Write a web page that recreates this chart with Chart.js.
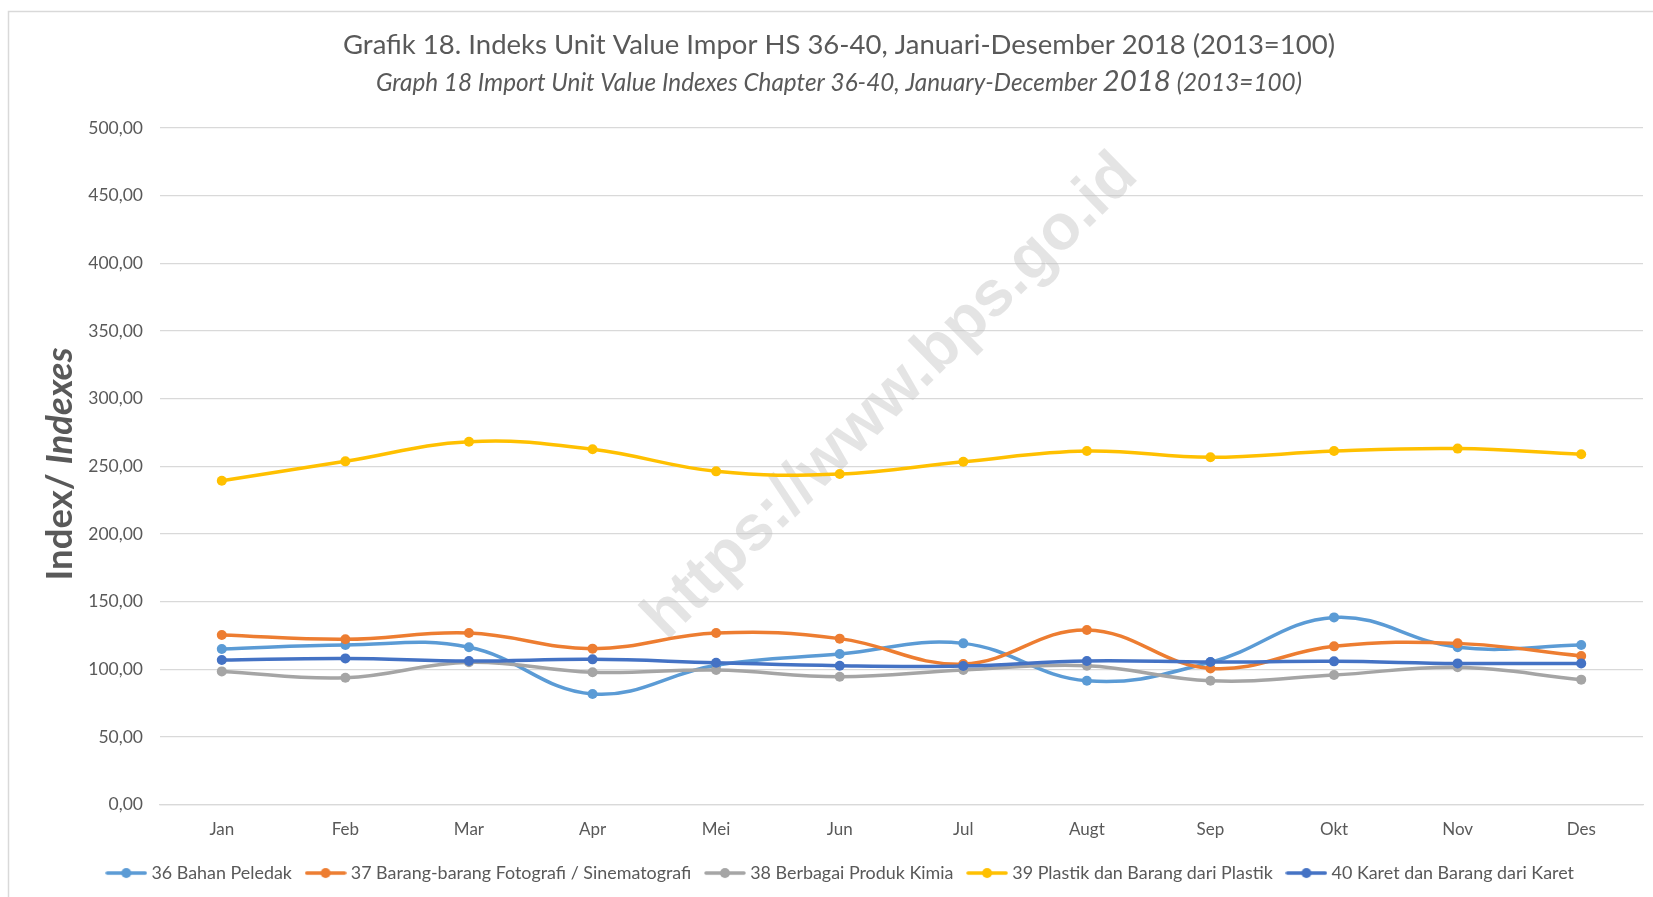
<!DOCTYPE html>
<html>
<head>
<meta charset="utf-8">
<title>Grafik 18 - Indeks Unit Value Impor HS 36-40</title>
<script src="https://cdn.jsdelivr.net/npm/chart.js@4/dist/chart.umd.min.js"></script>
<style>
  html, body { margin: 0; padding: 0; background: #fff; overflow: hidden; }
  #wrap { position: absolute; left: 0; top: 0; width: 1678px; height: 897px; }
</style>
</head>
<body>
<div id="wrap"><canvas id="uvChart"></canvas></div>
<script>
// Data
const months = ['Jan', 'Feb', 'Mar', 'Apr', 'Mei', 'Jun', 'Jul', 'Augt', 'Sep', 'Okt', 'Nov', 'Des'];
const hs36 = [115.0, 118.0, 116.3, 81.8, 103.0, 111.3, 119.2, 91.6, 105.2, 138.4, 116.3, 118.0];
const hs37 = [125.4, 122.2, 126.8, 115.3, 126.8, 122.7, 103.9, 129.1, 100.7, 117.0, 119.2, 109.9];
const hs38 = [98.5, 93.8, 105.2, 97.8, 99.5, 94.6, 99.5, 102.7, 91.6, 95.8, 101.5, 92.4];
const hs39 = [239.4, 253.7, 268.2, 262.6, 246.3, 244.3, 253.4, 261.3, 256.7, 261.3, 263.1, 258.9];
const hs40 = [106.9, 108.1, 106.2, 107.4, 104.9, 102.7, 102.5, 106.2, 105.4, 105.9, 104.4, 104.4];
const seriesNames = [
    '36 Bahan Peledak',
    '37 Barang-barang Fotografi / Sinematografi',
    '38 Berbagai Produk Kimia',
    '39 Plastik dan Barang dari Plastik',
    '40 Karet dan Barang dari Karet'
];
const yMin = 0, yMax = 500, yStep = 50;

const seriesValues = [hs36, hs37, hs38, hs39, hs40];
const seriesColors = ['#5B9BD5', '#ED7D31', '#A5A5A5', '#FFC000', '#4472C4'];
const textColor = '#595959';

const titleText = 'Grafik 18. Indeks Unit Value Impor HS 36-40, Januari-Desember 2018 (2013=100)';
const subtitleParts = [
    ['Graph 18 Import Unit Value Indexes Chapter 36-40, January-December ', 24.3],
    ['2018', 29.5],
    [' (2013=100)', 24.3]
];

// Legend marker: short line with a dot in the middle, like Excel
function legendMarker(color) {
    const c = document.createElement('canvas');
    c.width = 42;
    c.height = 12;
    const g = c.getContext('2d');
    g.strokeStyle = color;
    g.lineWidth = 3.5;
    g.lineCap = 'round';
    g.beginPath();
    g.moveTo(2, 6);
    g.lineTo(40, 6);
    g.stroke();
    g.fillStyle = color;
    g.beginPath();
    g.arc(21, 6, 5, 0, Math.PI * 2);
    g.fill();
    return c;
}
const markers = seriesColors.map(legendMarker);

// Frame, titles, y axis title and watermark
const decorations = {
    id: 'decorations',
    beforeDatasetsDraw(chart) {
        const ctx = chart.ctx;
        ctx.save();
        ctx.translate(891, 397);
        ctx.rotate(-44.4 * Math.PI / 180);
        ctx.font = 'bold 64px "Liberation Sans", Arial, sans-serif';
        ctx.fillStyle = 'rgba(190, 190, 190, 0.42)';
        ctx.textAlign = 'center';
        ctx.textBaseline = 'middle';
        ctx.fillText('https://www.bps.go.id', 0, 0);
        ctx.restore();
    },
    afterDraw(chart) {
        const ctx = chart.ctx;
        ctx.save();
        // frame
        ctx.strokeStyle = '#d9d9d9';
        ctx.lineWidth = 1.5;
        ctx.beginPath();
        ctx.moveTo(8.5, chart.height);
        ctx.lineTo(8.5, 11.5);
        ctx.lineTo(chart.width, 11.5);
        ctx.stroke();

        // main title
        ctx.fillStyle = textColor;
        ctx.textAlign = 'center';
        ctx.textBaseline = 'middle';
        ctx.font = '27.5px Lato';
        ctx.fillText(titleText, 839, 45);

        // subtitle with larger year
        ctx.textAlign = 'left';
        ctx.textBaseline = 'alphabetic';
        let total = 0;
        subtitleParts.forEach(([t, s]) => {
            ctx.font = 'italic ' + s + 'px Lato';
            total += ctx.measureText(t).width;
        });
        let x = 839 - total / 2;
        subtitleParts.forEach(([t, s]) => {
            ctx.font = 'italic ' + s + 'px Lato';
            ctx.fillText(t, x, 91);
            x += ctx.measureText(t).width;
        });

        // y axis title: "Index/ " upright, "Indexes" italic
        ctx.translate(60, 464);
        ctx.rotate(-Math.PI / 2);
        ctx.textBaseline = 'middle';
        ctx.font = 'bold 36.5px Lato';
        const w1 = ctx.measureText('Index/ ').width;
        ctx.font = 'italic bold 36.5px Lato';
        const w2 = ctx.measureText('Indexes').width;
        let sx = -(w1 + w2) / 2;
        ctx.font = 'bold 36.5px Lato';
        ctx.fillText('Index/ ', sx, 0);
        ctx.font = 'italic bold 36.5px Lato';
        ctx.fillText('Indexes', sx + w1, 0);
        ctx.restore();
    }
};

const datasets = seriesValues.map((vals, i) => ({
    label: seriesNames[i],
    data: vals,
    borderColor: seriesColors[i],
    backgroundColor: seriesColors[i],
    borderWidth: 3.5,
    pointRadius: 5,
    pointHoverRadius: 5,
    pointBorderWidth: 0,
    tension: 0.4,
    fill: false,
    order: seriesValues.length - i
}));

const ctx = document.getElementById('uvChart').getContext('2d');
const uvChart = new Chart(ctx, {
    type: 'line',
    data: { labels: months, datasets: datasets },
    options: {
        responsive: true,
        maintainAspectRatio: false,
        animation: false,
        layout: { padding: { left: 41, right: 35, top: 128, bottom: 5 } },
        scales: {
            x: {
                offset: true,
                grid: { display: false, drawTicks: false },
                border: { color: '#d9d9d9', width: 1.3 },
                ticks: { color: textColor, font: { family: 'Lato', size: 17 }, padding: 15 },
                afterFit: (s) => { s.height = 42; }
            },
            y: {
                min: yMin,
                max: yMax,
                ticks: {
                    stepSize: yStep,
                    padding: 17,
                    color: textColor,
                    font: { family: 'Lato', size: 17.5 },
                    callback: (v) => v.toFixed(2).replace('.', ',')
                },
                grid: { color: '#d9d9d9', lineWidth: 1.3, drawTicks: false },
                border: { display: false },
                afterFit: (s) => { s.width = 119; }
            }
        },
        plugins: {
            title: { display: false },
            tooltip: { enabled: false },
            legend: {
                position: 'bottom',
                labels: {
                    usePointStyle: true,
                    pointStyleWidth: 32.5,
                    boxHeight: 12,
                    padding: 17.4,
                    color: textColor,
                    font: { family: 'Lato', size: 17.9 },
                    sort: (a, b) => a.datasetIndex - b.datasetIndex,
                    generateLabels: (chart) =>
                        Chart.defaults.plugins.legend.labels.generateLabels(chart).map((l) => ({
                            ...l,
                            pointStyle: markers[l.datasetIndex]
                        }))
                }
            }
        }
    },
    plugins: [decorations]
});
</script>
</body>
</html>
